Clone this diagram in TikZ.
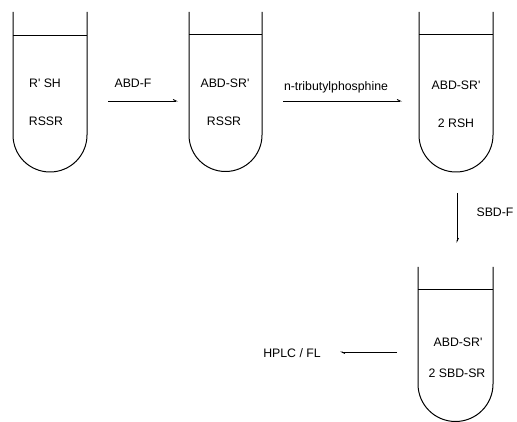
\documentclass[tikz,border=0pt]{standalone}
\usepackage{fontspec}
\setmainfont{Liberation Sans}
\usetikzlibrary{arrows.meta}
\newcommand{\sq}{\textquotesingle}
\begin{document}
\begin{tikzpicture}[x=1pt,y=1pt,
  tube/.style={line width=1pt, black},
  lbl/.style={font=\fontsize{12.3}{14}\selectfont, inner sep=0pt},
  rxn/.style={line width=0.9pt, -{Straight Barb[left,length=3pt,width=3pt]}}]
\useasboundingbox (0,0) rectangle (517,422);
% tube 1
\draw[tube] (13,410) -- (13,287) arc[start angle=180,end angle=360,radius=37] -- (87,410);
\draw[tube] (13,386) -- (87,386);
\node[lbl] (t1a) at (45,339) {R\sq{} SH};
\node[lbl] (t1b) at (46,301) {RSSR};
% tube 2
\draw[tube] (189,410) -- (189,287) arc[start angle=180,end angle=360,radius=36.5] -- (262,410);
\draw[tube] (189,387) -- (262,387);
\node[lbl] (t2a) at (225,339) {ABD-SR\sq};
\node[lbl] (t2b) at (224,301) {RSSR};
% tube 3
\draw[tube] (419,410) -- (419,287) arc[start angle=180,end angle=360,radius=37] -- (493,410);
\draw[tube] (419,387) -- (493,387);
\node[lbl] (t3a) at (456,337) {ABD-SR\sq};
\node[lbl] (t3b) at (456,299) {2 RSH};
% tube 4
\draw[tube] (418,155) -- (418,38) arc[start angle=180,end angle=360,radius=37.5] -- (493,155);
\draw[tube] (418,132) -- (493,132);
\node[lbl] (t4a) at (458,80) {ABD-SR\sq};
\node[lbl] (t4b) at (457,49) {2 SBD-SR};
% arrows
\coordinate (a1s) at (108,321); \coordinate (a1e) at (178,321);
\draw[rxn] (a1s) -- (a1e);
\node[lbl] (l1) at (133,339) {ABD-F};
\coordinate (a2s) at (283,321); \coordinate (a2e) at (402,321);
\draw[rxn] (a2s) -- (a2e);
\node[lbl] (l2) at (336,335) {n-tributylphosphine};
\coordinate (a3s) at (457,229); \coordinate (a3e) at (457,179);
\draw[rxn] (a3s) -- (a3e);
\node[lbl] (l3) at (495,210) {SBD-F};
\coordinate (a4s) at (397,70); \coordinate (a4e) at (340,70);
\draw[rxn] (a4s) -- (a4e);
\node[lbl] (l4) at (292,69) {HPLC / FL};
\end{tikzpicture}
\end{document}
